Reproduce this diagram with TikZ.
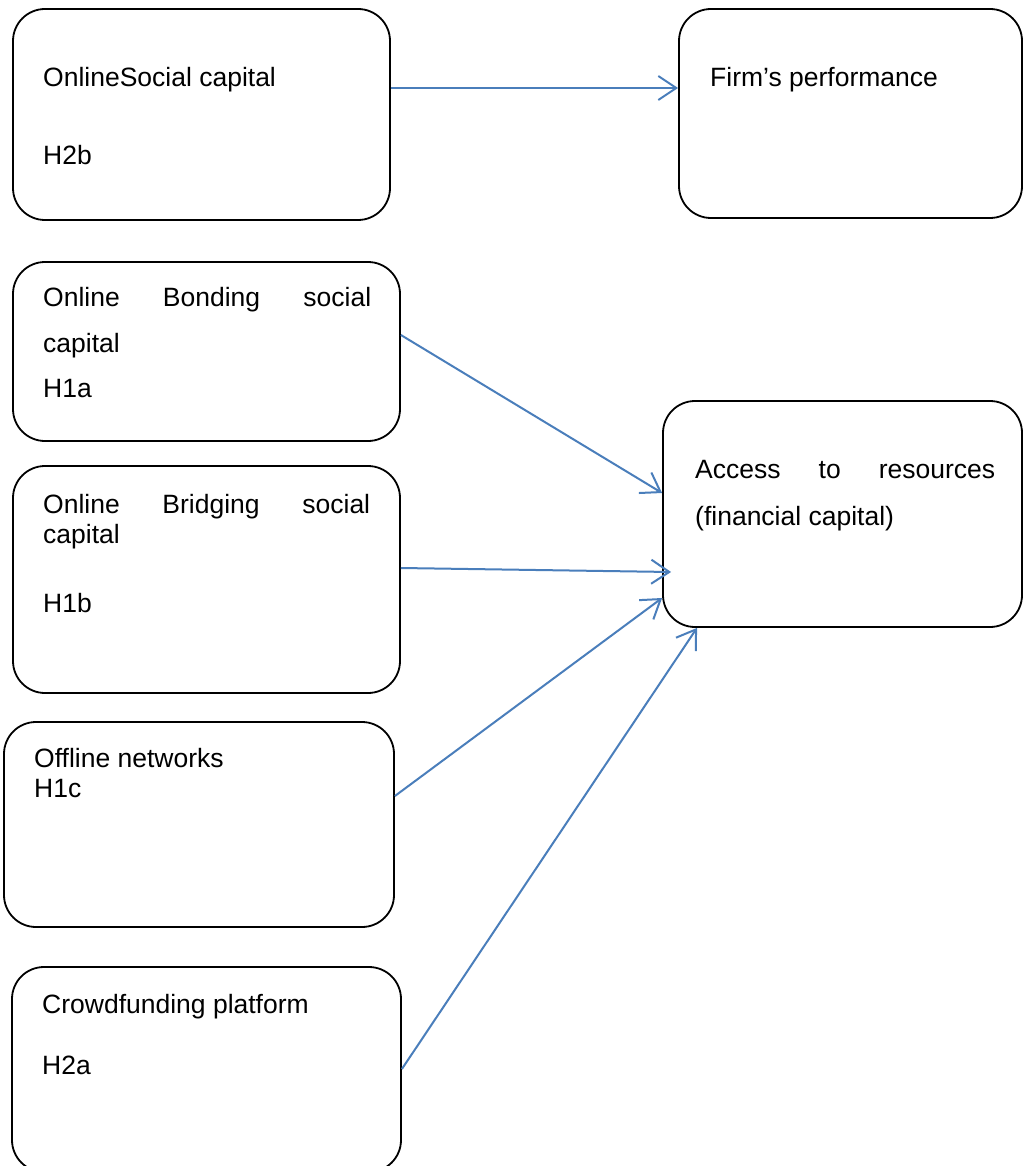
\documentclass[tikz,border=0pt]{standalone}
\usepackage{fontspec}
\setmainfont{Liberation Sans}
\usetikzlibrary{arrows.meta}
\definecolor{linkblue}{RGB}{74,126,187}
\tikzset{
  box/.style={draw, line width=1.8pt, rounded corners=32pt, inner sep=0pt},
  txt/.style={anchor=base west, inner sep=0pt},
  link/.style={draw=linkblue, line width=2pt, -{Straight Barb[length=18pt,width=24pt,line width=2pt]}}
}
\begin{document}
\begin{tikzpicture}[x=1pt, y=-1pt, font=\fontsize{26.5}{30}\selectfont]
        \useasboundingbox (0,0) rectangle (1022,1166);
        % boxes
        \node[box, minimum width=377pt, minimum height=211pt] (osc)     at (201.5,114.5) {};
        \node[box, minimum width=343pt, minimum height=209pt] (firm)    at (850.5,113.5) {};
        \node[box, minimum width=387pt, minimum height=179pt] (bond)    at (206.5,351.5) {};
        \node[box, minimum width=387pt, minimum height=227pt] (bridge)  at (206.5,579.5) {};
        \node[box, minimum width=390pt, minimum height=205pt] (offline) at (199,824.5) {};
        \node[box, minimum width=389pt, minimum height=205pt] (crowd)   at (206.5,1069.5) {};
        \node[box, minimum width=359pt, minimum height=226pt] (access)  at (842.5,514) {};
        % texts
        \node[txt] (osc-name)     at (43,87)    {OnlineSocial capital};
        \node[txt] (osc-hyp)      at (43,165)   {H2b};
        \node[txt] (firm-name)    at (710,87)   {Firm’s performance};
        \node[txt] (bond-name)    at (43,306)   {\makebox[328pt][s]{Online Bonding social}};
        \node[txt] (bond-name2)   at (43,352)   {capital};
        \node[txt] (bond-hyp)     at (43,397)   {H1a};
        \node[txt] (bridge-name)  at (43,513)   {\makebox[327pt][s]{Online Bridging social}};
        \node[txt] (bridge-name2) at (43,543)   {capital};
        \node[txt] (bridge-hyp)   at (43,612)   {H1b};
        \node[txt] (offline-name) at (34,767)   {Offline networks};
        \node[txt] (offline-hyp)  at (34,797)   {H1c};
        \node[txt] (crowd-name)   at (42,1013)  {Crowdfunding platform};
        \node[txt] (crowd-hyp)    at (42,1074)  {H2a};
        \node[txt] (access-name)  at (695,478)  {\makebox[300pt][s]{Access to resources}};
        \node[txt] (access-name2) at (695,525)  {(financial capital)};
        % arrows
        \draw[link] ([yshift=26.5pt]osc.east)     -- ([yshift=25.5pt]firm.west);
        \draw[link] ([yshift=16.5pt]bond.east)    -- ([yshift=21pt]access.west);
        \draw[link] ([yshift=11.5pt]bridge.east)  -- ([xshift=9pt,yshift=-58pt]access.west);
        \draw[link] ([yshift=28.5pt]offline.east) -- ([yshift=-84pt]access.west);
        \draw[link] ([yshift=0.5pt]crowd.east)    -- ([xshift=-145.5pt]access.south);
\end{tikzpicture}
\end{document}
